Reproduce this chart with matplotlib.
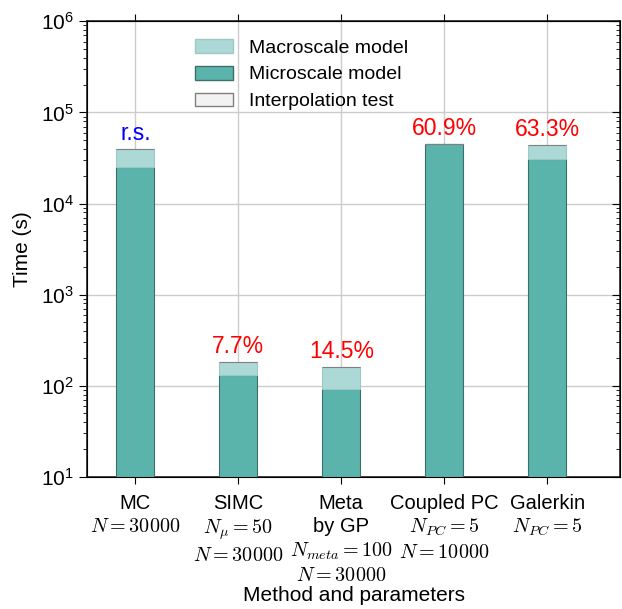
import numpy as np
import matplotlib
matplotlib.use('Agg')
import matplotlib.pyplot as plt
from matplotlib.patches import Patch

plt.rcParams['font.family'] = ['Liberation Sans', 'DejaVu Sans']
plt.rcParams['mathtext.fontset'] = 'cm'

# ── data ──
methods = ['MC\n$N=30000$',
           'SIMC\n$N_{\\mu}=50$\n$N=30000$',
           'Meta\nby GP\n$N_{meta}=100$\n$N=30000$',
           'Coupled PC\n$N_{PC}=5$\n$N=10000$',
           'Galerkin\n$N_{PC}=5$']
micro_time = [25000, 131, 92, 44500, 30500]
macro_time = [15000, 51, 69, 300, 13200]
interp_time = [0, 0, 0, 0, 0]
labels = ['r.s.', '7.7%', '14.5%', '60.9%', '63.3%']
label_colors = ['blue', 'red', 'red', 'red', 'red']

c_micro = '#5ab4ac'
c_macro = '#acd9d5'
c_interp = '#f2f2f2'

fig, ax = plt.subplots(figsize=(6.22, 6.09), dpi=100)
fig.subplots_adjust(left=0.14, right=0.997, top=0.965, bottom=0.217)

x = np.arange(len(methods))
w = 0.37
micro = np.array(micro_time, dtype=float)
macro = np.array(macro_time, dtype=float)
interp = np.array(interp_time, dtype=float)

ax.bar(x, micro, w, color=c_micro, edgecolor='#3d6e6a', linewidth=0.8, zorder=3)
ax.bar(x, macro, w, bottom=micro, color=c_macro, edgecolor='#9cc9c5',
       linewidth=0.8, zorder=3)
ax.bar(x, interp, w, bottom=micro + macro, color=c_interp, edgecolor='gray',
       linewidth=0.8, zorder=3)

for xi, top, lab, col in zip(x, micro + macro + interp, labels, label_colors):
    ax.text(xi, top * 1.11, lab, ha='center', va='bottom', color=col, fontsize=16.5)

ax.set_yscale('log')
ax.set_ylim(10, 1e6)
ax.set_xlim(-0.47, 4.71)
ax.set_xticks(x)
ax.set_xticklabels(methods, fontsize=14.5, linespacing=1.28)
ax.tick_params(axis='y', labelsize=15)
ax.tick_params(axis='x', which='both', top=True, direction='out', length=5, pad=7)
ax.tick_params(axis='y', which='both', left=True, right=False, direction='out')
ax.tick_params(axis='y', which='major', length=6)
ax.tick_params(axis='y', which='minor', length=3)

# inward ticks on the right side
ax2 = ax.twinx()
ax2.set_yscale('log')
ax2.set_ylim(ax.get_ylim())
ax2.tick_params(axis='y', which='both', direction='in', labelright=False)
ax2.tick_params(axis='y', which='major', length=6)
ax2.tick_params(axis='y', which='minor', length=3)

ax.grid(True, which='major', color='#cccccc', linewidth=1, zorder=0)
ax.set_axisbelow(True)
for sp in ax.spines.values():
    sp.set_color('#222222')
    sp.set_linewidth(1.2)

ax.set_xlabel('Method and parameters', fontsize=15, labelpad=1)
ax.set_ylabel('Time (s)', fontsize=15, labelpad=6)

handles = [Patch(facecolor=c_macro, edgecolor='#9cc9c5', label='Macroscale model'),
           Patch(facecolor=c_micro, edgecolor='#3d6e6a', label='Microscale model'),
           Patch(facecolor=c_interp, edgecolor='gray', label='Interpolation test')]
ax.legend(handles=handles, loc='upper left', bbox_to_anchor=(0.17, 1.0),
          frameon=False, fontsize=14, handlelength=1.95, handleheight=0.72,
          labelspacing=0.47, handletextpad=0.8)

plt.savefig('out.png', dpi=100)
